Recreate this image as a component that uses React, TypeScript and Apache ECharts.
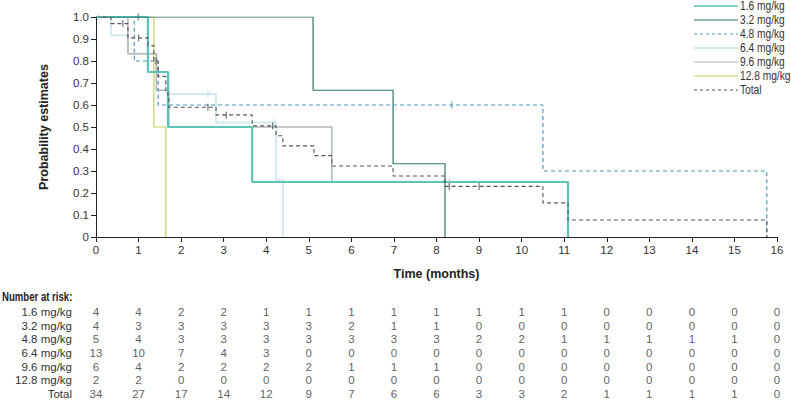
import React, { useEffect, useRef } from "react";
import * as echarts from "echarts";

const FONT = "'Liberation Sans', Arial, sans-serif";

const groups = ["1.6 mg/kg", "3.2 mg/kg", "4.8 mg/kg", "6.4 mg/kg", "9.6 mg/kg", "12.8 mg/kg", "Total"];
const colors = ["#5cc3b6", "#2f7566", "#4b97bd", "#d3e9f0", "#b2b8bb", "#c5d05c", "#555555"];

// Kaplan-Meier curves: time of each change and survival after that change
const t16 = [0, 1.22, 1.69, 3.67, 11.09];
const s16 = [1, 0.75, 0.5, 0.25, 0];
const t32 = [0, 5.1, 6.98, 8.2];
const s32 = [1, 0.667, 0.333, 0];
const t48 = [0, 0.9, 1.46, 10.5, 15.76];
const s48 = [1, 0.8, 0.6, 0.3, 0];
const t64 = [0, 0.35, 0.75, 1.42, 1.71, 2.82, 4.23, 4.39];
const s64 = [1, 0.917, 0.833, 0.75, 0.65, 0.52, 0.26, 0];
const t96 = [0, 0.75, 1.42, 1.71, 5.54];
const s96 = [1, 0.833, 0.667, 0.5, 0.25];
const t128 = [0, 1.36, 1.64];
const s128 = [1, 0.5, 0];
const tTot = [0, 0.35, 0.75, 1.22, 1.36, 1.46, 1.64, 1.69, 1.71, 2.82, 3.67, 4.23, 4.39, 5.12, 5.54, 6.98, 8.2, 10.5, 11.09, 15.76];
const sTot = [1, 0.97, 0.905, 0.87, 0.8, 0.73, 0.66, 0.63, 0.59, 0.555, 0.505, 0.46, 0.414, 0.37, 0.323, 0.277, 0.23, 0.155, 0.077, 0];

// last follow-up time of each curve
const ends = [11.09, 8.2, 15.76, 4.39, 8.3, 1.64, 15.76];

// censoring times
const c16: number[] = [];
const c32 = [0.99];
const c48 = [8.36];
const c64 = [0.05, 2.63, 4.18];
const c96 = [8.3];
const c128: number[] = [];
const cTot = [0.63, 1.0, 1.41, 2.63, 3.06, 4.15, 8.3, 9.0];

// number at risk
const riskTimes = [0, 1, 2, 3, 4, 5, 6, 7, 8, 9, 10, 11, 12, 13, 14, 15, 16];
const risk16 = [4, 4, 2, 2, 1, 1, 1, 1, 1, 1, 1, 1, 0, 0, 0, 0, 0];
const risk32 = [4, 3, 3, 3, 3, 3, 2, 1, 1, 0, 0, 0, 0, 0, 0, 0, 0];
const risk48 = [5, 4, 3, 3, 3, 3, 3, 3, 3, 2, 2, 1, 1, 1, 1, 1, 0];
const risk64 = [13, 10, 7, 4, 3, 0, 0, 0, 0, 0, 0, 0, 0, 0, 0, 0, 0];
const risk96 = [6, 4, 2, 2, 2, 2, 1, 1, 1, 0, 0, 0, 0, 0, 0, 0, 0];
const risk128 = [2, 2, 0, 0, 0, 0, 0, 0, 0, 0, 0, 0, 0, 0, 0, 0, 0];
const riskTot = [34, 27, 17, 14, 12, 9, 7, 6, 6, 3, 3, 2, 1, 1, 1, 1, 0];

function stairs(times: number[], surv: number[], end: number) {
  const pts: number[][] = [[times[0], surv[0]]];
  for (let i = 1; i < times.length; i++) {
    pts.push([times[i], surv[i - 1]]);
    pts.push([times[i], surv[i]]);
  }
  if (end > times[times.length - 1]) pts.push([end, surv[surv.length - 1]]);
  return pts;
}
function survAt(times: number[], surv: number[], t: number) {
  let v = surv[0];
  for (let i = 0; i < times.length; i++) if (times[i] <= t) v = surv[i];
  return v;
}

export default function App() {
  const ref = useRef<HTMLDivElement>(null);
  useEffect(() => {
    if (!ref.current) return;
    const chart = echarts.init(ref.current, undefined, { renderer: "svg" });
    const curves = [
      [t16, s16, c16], [t32, s32, c32], [t48, s48, c48], [t64, s64, c64],
      [t96, s96, c96], [t128, s128, c128], [tTot, sTot, cTot],
    ] as number[][][];
    const widths = [2.2, 1.2, 1.2, 2, 1.6, 1.2, 1.1];
    const dashed = [false, false, true, false, false, false, true];
    const zs = [5, 6, 7, 2, 3, 4, 8];
    const series: any[] = [];
    curves.forEach((c, i) => {
      series.push({
        type: "line", name: groups[i], data: stairs(c[0], c[1], ends[i]),
        symbol: "none", silent: true, z: zs[i],
        lineStyle: { color: colors[i], width: widths[i], type: dashed[i] ? [4, 3] : "solid" },
        itemStyle: { color: colors[i] },
      });
    });
    curves.forEach((c, i) => {
      if (!c[2].length) return;
      series.push({
        type: "scatter", name: groups[i] + " censored",
        data: c[2].map((t) => [t, survAt(c[0], c[1], t)]),
        symbol: "rect", symbolSize: [1.2, 7], silent: true, z: zs[i] + 10,
        itemStyle: { color: i === 3 ? "#b9d9e3" : colors[i] },
      });
    });
    const risks = [risk16, risk32, risk48, risk64, risk96, risk128, riskTot];
    const tableData: any[] = [];
    risks.forEach((r, row) => r.forEach((v, k) => tableData.push([riskTimes[k], row, v])));
    series.push({
      type: "scatter", name: "risk", xAxisIndex: 1, yAxisIndex: 1, data: tableData,
      symbolSize: 1, silent: true, itemStyle: { color: "rgba(0,0,0,0)" },
      label: {
        show: true, position: "inside", formatter: (p: any) => String(p.value[2]),
        color: "#333", fontSize: 11.5, fontFamily: FONT,
      },
    });

    // legend drawn as graphic elements
    const legendGraphics: any[] = [];
    groups.forEach((g, i) => {
      const y = 6 + 14 * i;
      legendGraphics.push({
        type: "line", shape: { x1: 694, y1: y, x2: 738, y2: y }, silent: true,
        style: {
          stroke: colors[i], lineWidth: i === 0 ? 1.6 : i === 3 ? 2 : 1.2,
          lineDash: dashed[i] ? [3, 3] : null,
        },
      });
      legendGraphics.push({
        type: "text", x: 740, y, scaleX: 0.85, silent: true,
        style: { text: g, fontSize: 12, fill: "#333", fontFamily: FONT, verticalAlign: "middle", align: "left" },
      });
    });

    chart.setOption({
      animation: false,
      textStyle: { fontFamily: FONT },
      grid: [
        { left: 96, top: 17, width: 681, height: 220 },
        { left: 96, top: 305, width: 681, height: 97 },
      ],
      xAxis: [
        {
          type: "value", min: 0, max: 16, interval: 1, gridIndex: 0,
          name: "Time (months)", nameLocation: "middle", nameGap: 30,
          nameTextStyle: { fontWeight: "bold", fontSize: 12.5, color: "#222", fontFamily: FONT },
          axisLine: { show: true, lineStyle: { color: "#222", width: 1 } },
          axisTick: { show: true, length: 5, lineStyle: { color: "#222" } },
          axisLabel: { color: "#333", fontSize: 11.5, margin: 7, fontFamily: FONT },
          splitLine: { show: false },
        },
        {
          type: "value", min: 0, max: 16, interval: 1, gridIndex: 1, show: false,
        },
      ],
      yAxis: [
        {
          type: "value", min: 0, max: 1, interval: 0.1, gridIndex: 0,
          name: "Probability estimates", nameLocation: "middle", nameGap: 46,
          nameTextStyle: { fontWeight: "bold", fontSize: 12.5, color: "#222", fontFamily: FONT },
          axisLine: { show: true, lineStyle: { color: "#222", width: 1 } },
          axisTick: { show: true, length: 5, lineStyle: { color: "#222" } },
          axisLabel: {
            color: "#333", fontSize: 11.5, margin: 7, fontFamily: FONT,
            formatter: (v: number) => (v === 0 ? "0" : v.toFixed(1)),
          },
          splitLine: { show: false },
        },
        {
          type: "category", gridIndex: 1, data: groups, inverse: true,
          axisLine: { show: false }, axisTick: { show: false },
          axisLabel: { color: "#333", fontSize: 11.5, margin: 24, interval: 0, fontFamily: FONT },
          splitLine: { show: false },
        },
      ],
      graphic: [
        {
          type: "text", x: 2, y: 297, scaleX: 0.8, silent: true,
          style: { text: "Number at risk:", fontWeight: "bold", fontSize: 12, fill: "#222", fontFamily: FONT, verticalAlign: "middle" },
        },
        ...legendGraphics,
      ],
      series,
    });
    return () => chart.dispose();
  }, []);
  return (
    <div
      ref={ref}
      style={{ position: "fixed", left: 0, top: 0, width: 791, height: 401, background: "#fff" }}
    />
  );
}
